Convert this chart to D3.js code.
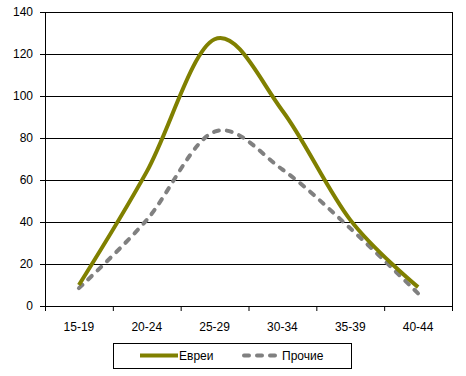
<!DOCTYPE html>
<html>
<head>
<meta charset="utf-8">
<script src="https://cdn.jsdelivr.net/npm/d3@7"></script>
<style>
  body { margin: 0; background: #fff; }
  text { font-family: "Liberation Sans", Arial, sans-serif; font-size: 12px; fill: #000; }
</style>
</head>
<body>
<div id="chart"></div>
<script>
// age groups and values
const ages = ["15-19", "20-24", "25-29", "30-34", "35-39", "40-44"];
const jews = [10, 64, 127, 93, 41, 9];
const others = [8.5, 41, 83, 65, 37, 6];
const yTicks = [0, 20, 40, 60, 80, 100, 120, 140];
const seriesNames = ["Евреи", "Прочие"];

const margin = {top: 12, right: 14, bottom: 70, left: 45};
const width = 466 - margin.left - margin.right,
      height = 376 - margin.top - margin.bottom;

const svg = d3.select("#chart").append("svg")
    .attr("width", 466)
    .attr("height", 376)
  .append("g")
    .attr("transform", "translate(" + margin.left + "," + margin.top + ")");

const x = d3.scaleBand().domain(ages).range([0, width]);
const y = d3.scaleLinear().domain([0, 140]).range([height, 0]);

// gridlines
svg.selectAll(".grid")
  .data(yTicks.slice(1))
  .join("line")
  .attr("x1", 0).attr("x2", width)
  .attr("y1", d => y(d) + 0.5).attr("y2", d => y(d) + 0.5)
  .attr("stroke", "#000").attr("stroke-width", 1);

// right border
svg.append("line")
  .attr("x1", width + 0.5).attr("x2", width + 0.5)
  .attr("y1", 0).attr("y2", height)
  .attr("stroke", "#000");

// y axis
const yAxis = svg.append("g")
  .call(d3.axisLeft(y).tickValues(yTicks).tickSize(5).tickPadding(7));
yAxis.select(".domain").attr("stroke", "#000");
yAxis.selectAll("text").style("font-size", "12px").attr("fill", "#000");

// x axis with ticks between categories
const xAxis = svg.append("g")
  .attr("transform", "translate(0," + height + ")")
  .call(d3.axisBottom(x).tickSize(0).tickPadding(16));
xAxis.select(".domain").attr("stroke", "#000");
xAxis.selectAll("text").style("font-size", "12px").attr("fill", "#000");
xAxis.selectAll(".sep")
  .data(d3.range(ages.length + 1))
  .join("line")
  .attr("x1", i => i * x.bandwidth() + 0.5).attr("x2", i => i * x.bandwidth() + 0.5)
  .attr("y1", 0).attr("y2", 5)
  .attr("stroke", "#000");

const line = d3.line()
  .x((d, i) => x(ages[i]) + x.bandwidth() / 2)
  .y(d => y(d))
  .curve(d3.curveCatmullRom.alpha(0));

svg.append("path")
  .datum(others)
  .attr("d", line)
  .attr("fill", "none")
  .attr("stroke", "#808080")
  .attr("stroke-width", 4)
  .attr("stroke-linecap", "round")
  .attr("stroke-dasharray", "5,8");

svg.append("path")
  .datum(jews)
  .attr("d", line)
  .attr("fill", "none")
  .attr("stroke", "#808000")
  .attr("stroke-width", 4);

// legend
const legend = d3.select("svg").append("g").attr("transform", "translate(113,343)");
legend.append("rect")
  .attr("x", 0.5).attr("y", 0.5)
  .attr("width", 238).attr("height", 25)
  .attr("fill", "#fff").attr("stroke", "#000");

legend.append("line")
  .attr("x1", 27).attr("x2", 65).attr("y1", 12.5).attr("y2", 12.5)
  .attr("stroke", "#808000").attr("stroke-width", 4);
legend.append("text").attr("x", 66).attr("y", 17).text(seriesNames[0]);

legend.append("line")
  .attr("x1", 131).attr("x2", 167).attr("y1", 12.5).attr("y2", 12.5)
  .attr("stroke", "#808080").attr("stroke-width", 4)
  .attr("stroke-linecap", "round")
  .attr("stroke-dasharray", "5,8");
legend.append("text").attr("x", 169).attr("y", 17).text(seriesNames[1]);
</script>
</body>
</html>
